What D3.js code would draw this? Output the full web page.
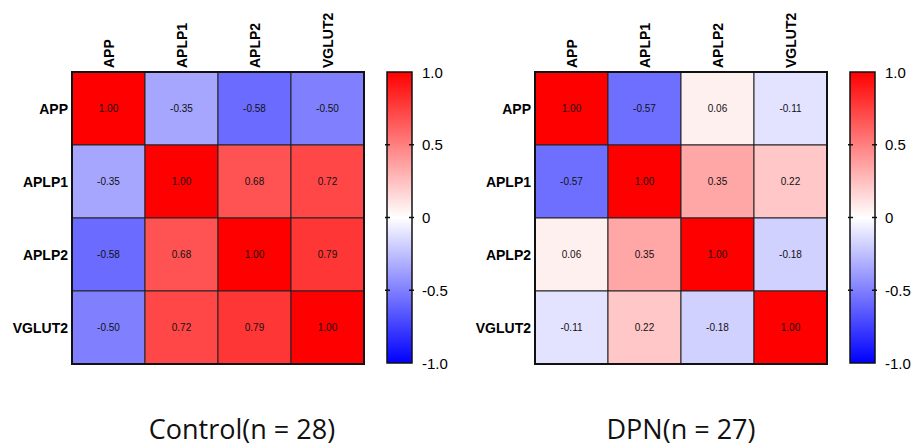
<!DOCTYPE html>
<html lang="en">
<head>
<meta charset="UTF-8">
<title>Correlation heatmaps</title>
<script src="https://d3js.org/d3.v7.min.js"></script>
<style>
  body { margin: 0; background: #fff; }
</style>
</head>
<body>
<div id="chart"></div>
<script>
// genes (rows and columns)
const genes = ["APP", "APLP1", "APLP2", "VGLUT2"];

// correlation matrices
const controlValues = [
  [1.00, -0.35, -0.58, -0.50],
  [-0.35, 1.00, 0.68, 0.72],
  [-0.58, 0.68, 1.00, 0.79],
  [-0.50, 0.72, 0.79, 1.00]
];
const dpnValues = [
  [1.00, -0.57, 0.06, -0.11],
  [-0.57, 1.00, 0.35, 0.22],
  [0.06, 0.35, 1.00, -0.18],
  [-0.11, 0.22, -0.18, 1.00]
];

const titles = ["Control(n = 28)", "DPN(n = 27)"];
const legendTicks = [1.0, 0.5, 0, -0.5, -1.0];
const legendLabels = ["1.0", "0.5", "0", "-0.5", "-1.0"];

const W = 912, H = 447;
const svg = d3.select("#chart").append("svg")
  .attr("width", W).attr("height", H);

const color = d3.scaleLinear()
  .domain([-1, 0, 1])
  .range(["#0000ff", "#ffffff", "#ff0000"]);

function drawPanel(values, title, left, barLeft, titleX) {
  const top = 72, size = 292;
  const g = svg.append("g");

  const x = d3.scaleBand().domain(genes).range([left, left + size]);
  const y = d3.scaleBand().domain(genes).range([top, top + size]);

  const cells = [];
  values.forEach((row, i) => row.forEach((v, j) => cells.push({ r: genes[i], c: genes[j], v: v })));

  g.selectAll("rect.cell")
    .data(cells)
    .enter().append("rect")
    .attr("class", "cell")
    .attr("x", d => x(d.c))
    .attr("y", d => y(d.r))
    .attr("width", x.bandwidth())
    .attr("height", y.bandwidth())
    .attr("fill", d => color(d.v))
    .attr("stroke", "#222")
    .attr("stroke-width", 1);

  g.selectAll("text.val")
    .data(cells)
    .enter().append("text")
    .attr("x", d => x(d.c) + x.bandwidth() / 2)
    .attr("y", d => y(d.r) + y.bandwidth() / 2)
    .attr("text-anchor", "middle")
    .attr("dominant-baseline", "central")
    .attr("font-family", "Liberation Sans, Arial, sans-serif")
    .attr("font-size", 10)
    .attr("fill", "#111")
    .text(d => d.v.toFixed(2));

  // outer border
  g.append("rect")
    .attr("x", left).attr("y", top)
    .attr("width", size).attr("height", size)
    .attr("fill", "none")
    .attr("stroke", "#111")
    .attr("stroke-width", 2);

  // column labels
  g.selectAll("text.col")
    .data(genes)
    .enter().append("text")
    .attr("transform", d => `translate(${x(d) + x.bandwidth() / 2 + 5},${top - 4}) rotate(-90)`)
    .attr("font-family", "Liberation Sans, Arial, sans-serif")
    .attr("font-weight", "bold")
    .attr("font-size", 14)
    .text(d => d);

  // row labels
  g.selectAll("text.row")
    .data(genes)
    .enter().append("text")
    .attr("x", left - 4)
    .attr("y", d => y(d) + y.bandwidth() / 2)
    .attr("text-anchor", "end")
    .attr("dominant-baseline", "central")
    .attr("font-family", "Liberation Sans, Arial, sans-serif")
    .attr("font-weight", "bold")
    .attr("font-size", 14)
    .text(d => d);

  // color bar
  const barW = 25;
  const ly = d3.scaleLinear().domain([-1, 1]).range([top + size - 1, top]);
  const gradId = "grad" + Math.round(left);
  const grad = svg.append("defs").append("linearGradient")
    .attr("id", gradId)
    .attr("x1", 0).attr("y1", 1).attr("x2", 0).attr("y2", 0);
  [-1, 0, 1].forEach(v => {
    grad.append("stop")
      .attr("offset", (v + 1) / 2)
      .attr("stop-color", color(v));
  });
  g.append("rect")
    .attr("x", barLeft).attr("y", ly(1))
    .attr("width", barW).attr("height", ly(-1) - ly(1))
    .attr("fill", `url(#${gradId})`)
    .attr("stroke", "#111")
    .attr("stroke-width", 1.5);

  const tickG = g.selectAll("g.tick")
    .data(legendTicks)
    .enter().append("g");
  tickG.append("line")
    .attr("x1", barLeft - 2).attr("x2", barLeft + 3)
    .attr("y1", d => ly(d)).attr("y2", d => ly(d))
    .attr("stroke", "#111").attr("stroke-width", 1.5)
    .attr("display", d => Math.abs(d) === 1 ? "none" : null);
  tickG.append("line")
    .attr("x1", barLeft + barW - 3).attr("x2", barLeft + barW + 2)
    .attr("y1", d => ly(d)).attr("y2", d => ly(d))
    .attr("stroke", "#111").attr("stroke-width", 1.5)
    .attr("display", d => Math.abs(d) === 1 ? "none" : null);
  tickG.append("text")
    .attr("x", barLeft + barW + 10)
    .attr("y", d => ly(d))
    .attr("dominant-baseline", "central")
    .attr("font-family", "Liberation Sans, Arial, sans-serif")
    .attr("font-size", 15)
    .text((d, i) => legendLabels[i]);

  // title
  svg.append("text")
    .attr("x", titleX)
    .attr("y", 439)
    .attr("text-anchor", "middle")
    .attr("font-family", "Open Sans, Noto Sans, sans-serif")
    .attr("font-size", 27)
    .attr("fill", "#111")
    .text(title);
}

drawPanel(controlValues, titles[0], 72, 387, 242);
drawPanel(dpnValues, titles[1], 535, 850, 681);
</script>
</body>
</html>
